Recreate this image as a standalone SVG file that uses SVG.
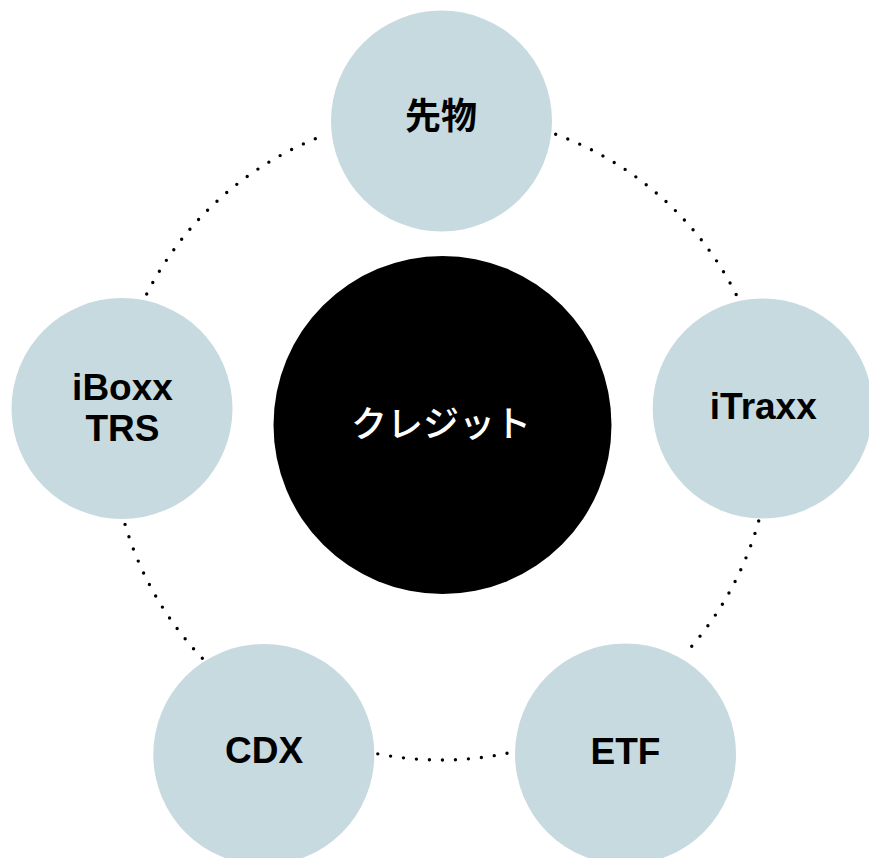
<svg xmlns="http://www.w3.org/2000/svg" width="869" height="858" viewBox="0 0 869 858">
<style>
.arc{fill:none;stroke:#000;stroke-width:3.4;stroke-linecap:round;stroke-dasharray:0 13}
.node{fill:#c6dae0}
.lbl{font-family:"Liberation Sans",Arial,sans-serif;font-weight:bold;font-size:37px;fill:#000;text-anchor:middle}
.jp{font-family:"Noto Sans CJK JP","Noto Sans CJK SC",sans-serif;font-size:36px;text-anchor:middle}
</style>
<rect width="869" height="858" fill="#fff"/>
<g id="connectors">
<path class="arc" d="M146.7,294 A328,328 0 0 1 321,136.5"/>
<path class="arc" d="M555.7,134.3 A328,328 0 0 1 739,300.3"/>
<path class="arc" d="M758.7,521 A328,328 0 0 1 689.3,649"/>
<path class="arc" d="M507,753.3 A328,328 0 0 1 375,753.3"/>
<path class="arc" d="M202.3,658.3 A328,328 0 0 1 124,520.7"/>
</g>
<g id="center">
<circle cx="442.5" cy="425" r="169" fill="#000"/>
<text class="jp" x="441" y="437" fill="#fff" font-weight="500">クレジット</text>
</g>
<g id="futures">
<circle class="node" cx="441.5" cy="121" r="110.5"/>
<text class="jp" x="441" y="129" fill="#000" font-weight="bold">先物</text>
</g>
<g id="itraxx">
<circle class="node" cx="762.7" cy="408.5" r="110"/>
<text class="lbl" x="763.3" y="419.3">iTraxx</text>
</g>
<g id="etf">
<circle class="node" cx="625.5" cy="754" r="110.5"/>
<text class="lbl" x="625.5" y="764">ETF</text>
</g>
<g id="cdx">
<circle class="node" cx="263.8" cy="754.5" r="110.5"/>
<text class="lbl" x="264" y="763.3">CDX</text>
</g>
<g id="iboxx">
<circle class="node" cx="122" cy="408.5" r="110.5"/>
<text class="lbl" x="122.5" y="400">iBoxx</text>
<text class="lbl" x="122.5" y="440.7">TRS</text>
</g>
</svg>
